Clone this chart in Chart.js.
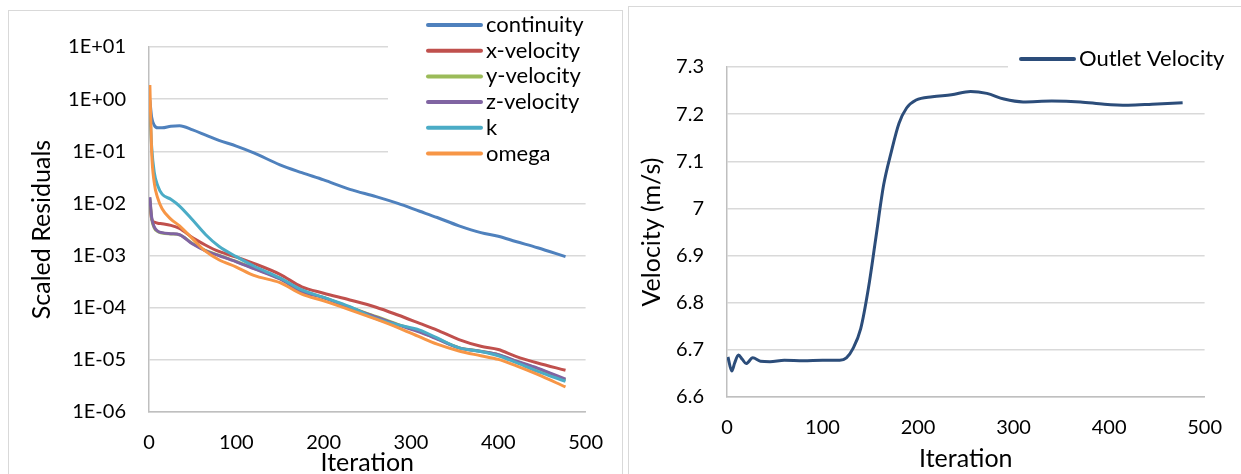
<!DOCTYPE html>
<html>
<head>
<meta charset="utf-8">
<script src="https://cdn.jsdelivr.net/npm/chart.js@4.4.0/dist/chart.umd.min.js"></script>
<style>
  body { margin: 0; background: #fff; width: 1241px; height: 474px; overflow: hidden; position: relative; }
  .panel { position: absolute; border: 1px solid #d9d9d9; border-bottom: none; background: #fff; overflow: hidden; }
  #left { left: 8px; top: 10px; width: 613px; height: 467px; }
  #right { left: 628px; top: 6px; width: 620px; height: 467px; }
  canvas { display: block; }
</style>
</head>
<body>
<div class="panel" id="left"><canvas id="residuals" width="613" height="467"></canvas></div>
<div class="panel" id="right"><canvas id="velocity" width="612" height="467"></canvas></div>
<script>
// residuals (left chart)
const iterations = [1, 3, 6, 10, 15, 25, 35, 50, 65, 80, 100, 120, 150, 175, 200, 230, 260, 285, 310, 330, 355, 380, 400, 420, 445, 477];
const continuity = [0.955, 0.457, 0.316, 0.282, 0.282, 0.302, 0.309, 0.257, 0.204, 0.162, 0.126, 0.0933, 0.055, 0.0389, 0.0282, 0.0186, 0.0135, 0.0100, 0.00708, 0.00537, 0.00372, 0.00275, 0.00234, 0.00186, 0.00141, 0.000955];
const xVelocity = [0.0112, 0.00501, 0.00437, 0.00417, 0.00407, 0.0038, 0.00331, 0.00219, 0.00158, 0.0012, 0.000933, 0.000708, 0.000437, 0.000251, 0.00019, 0.000141, 0.000102, 7.24e-5, 5.01e-5, 3.72e-5, 2.45e-5, 1.82e-5, 1.58e-5, 1.17e-5, 8.71e-6, 6.31e-6];
const yVelocity = [0.0125, 0.0052, 0.0034, 0.0029, 0.0027, 0.0026, 0.0025, 0.0017, 0.00125, 0.00102, 0.00077, 0.00057, 0.00036, 0.00021, 0.000158, 0.000102, 6.8e-5, 4.8e-5, 3.5e-5, 2.55e-5, 1.72e-5, 1.46e-5, 1.25e-5, 9.4e-6, 6.8e-6, 4.1e-6];
const zVelocity = [0.0132, 0.0055, 0.00355, 0.00295, 0.00275, 0.00263, 0.00251, 0.00166, 0.00123, 0.001, 0.000759, 0.000562, 0.000355, 0.000204, 0.000155, 0.0001, 6.61e-5, 4.68e-5, 3.39e-5, 2.51e-5, 1.7e-5, 1.45e-5, 1.26e-5, 9.55e-6, 6.92e-6, 4.27e-6];
const kResidual = [0.631, 0.126, 0.0398, 0.0219, 0.0151, 0.012, 0.00891, 0.00479, 0.00251, 0.00151, 0.000955, 0.000631, 0.000372, 0.000219, 0.000158, 0.000105, 6.17e-5, 4.68e-5, 3.72e-5, 2.63e-5, 1.7e-5, 1.45e-5, 1.2e-5, 8.91e-6, 6.03e-6, 3.89e-6];
const omega = [1.86, 0.1, 0.0251, 0.0126, 0.00794, 0.00501, 0.00372, 0.00209, 0.0012, 0.000832, 0.000603, 0.000417, 0.000302, 0.000182, 0.000135, 9.12e-5, 6.03e-5, 4.17e-5, 2.75e-5, 2.0e-5, 1.48e-5, 1.2e-5, 1.02e-5, 7.76e-6, 5.25e-6, 3.02e-6];
const residualTicks = [1e-6, 1e-5, 1e-4, 1e-3, 1e-2, 1e-1, 1, 10];
const residualTickLabels = ['1E-06', '1E-05', '1E-04', '1E-03', '1E-02', '1E-01', '1E+00', '1E+01'];

// outlet velocity (right chart)
const velIterations = [1, 5, 8, 12, 16, 20, 27, 35, 45, 60, 80, 100, 118, 125, 132, 140, 148, 156, 164, 172, 180, 188, 198, 215, 235, 255, 272, 290, 310, 340, 370, 395, 420, 445, 477];
const outletVelocity = [6.685, 6.655, 6.672, 6.689, 6.680, 6.671, 6.683, 6.676, 6.675, 6.678, 6.677, 6.678, 6.678, 6.683, 6.703, 6.745, 6.83, 6.94, 7.05, 7.12, 7.18, 7.213, 7.23, 7.237, 7.241, 7.248, 7.244, 7.232, 7.226, 7.228, 7.226, 7.221, 7.219, 7.221, 7.224];
const velTickLabels = ['6.6', '6.7', '6.8', '6.9', '7', '7.1', '7.2', '7.3'];
const xTickLabels = ['0', '100', '200', '300', '400', '500'];

Chart.defaults.font.family = 'Lato, sans-serif';
Chart.defaults.font.size = 20;
Chart.defaults.color = '#000';

// legend drawn over the plot like the spreadsheet one, with a white box under it
const sideLegend = {
  id: 'sideLegend',
  beforeDatasetsDraw(chart, args, opts) {
    const ctx = chart.ctx;
    ctx.save();
    ctx.fillStyle = '#fff';
    ctx.fillRect(opts.coverX, 0, chart.width - opts.coverX, opts.coverBottom);
    ctx.restore();
  },
  afterDraw(chart, args, opts) {
    const ctx = chart.ctx;
    ctx.save();
    ctx.font = '22px Lato, sans-serif';
    ctx.textBaseline = 'middle';
    ctx.fillStyle = '#000';
    chart.data.datasets.forEach((ds, i) => {
      const y = opts.y + i * opts.rowHeight;
      ctx.strokeStyle = ds.borderColor;
      ctx.lineWidth = 4;
      ctx.lineCap = 'round';
      ctx.beginPath();
      ctx.moveTo(opts.x, y);
      ctx.lineTo(opts.x + opts.lineLength, y);
      ctx.stroke();
      ctx.fillText(ds.label, opts.x + opts.lineLength + 5, y);
    });
    ctx.restore();
  }
};

function series(xs, ys) {
  return xs.map((x, i) => ({ x, y: ys[i] }));
}

function lineSet(label, color, ys, xs, i, n) {
  return {
    label,
    data: series(xs, ys),
    borderColor: color,
    backgroundColor: color,
    borderWidth: 3,
    pointRadius: 0,
    cubicInterpolationMode: 'monotone',
    order: n - i
  };
}

const titleFont = { size: 25 };

const xAxis = (height) => ({
  type: 'linear',
  min: 0,
  max: 500,
  ticks: { stepSize: 100, padding: 19, callback: (v, i) => xTickLabels[i] },
  grid: { display: false, drawTicks: false },
  border: { display: true, color: '#bfbfbf', width: 1.5 },
  title: { display: true, text: 'Iteration', font: titleFont, padding: { top: 0, bottom: 0 } },
  afterFit: s => { s.height = height; }
});

const resNames = ['continuity', 'x-velocity', 'y-velocity', 'z-velocity', 'k', 'omega'];
const resColors = ['#4f81bd', '#c0504d', '#9bbb59', '#8064a2', '#4bacc6', '#f79646'];
const resValues = [continuity, xVelocity, yVelocity, zVelocity, kResidual, omega];

new Chart(document.getElementById('residuals'), {
  type: 'line',
  data: {
    datasets: resNames.map((name, i) => lineSet(name, resColors[i], resValues[i], iterations, i, resNames.length))
  },
  options: {
    responsive: false,
    animation: false,
    devicePixelRatio: 1,
    layout: { padding: { left: 0, top: 36, right: 34, bottom: 0 } },
    plugins: {
      legend: { display: false },
      tooltip: { enabled: false },
      sideLegend: { x: 419, y: 14, rowHeight: 25.7, lineLength: 53, coverX: 379, coverBottom: 146 }
    },
    scales: {
      x: xAxis(66),
      y: {
        type: 'logarithmic',
        min: 1e-6,
        max: 10,
        afterBuildTicks: s => { s.ticks = residualTicks.map(v => ({ value: v })); },
        ticks: { padding: 23, callback: (v, i) => residualTickLabels[i] },
        grid: { color: '#d9d9d9', lineWidth: 1.5, drawTicks: false },
        border: { display: true, color: '#bfbfbf', width: 1.5 },
        title: { display: true, text: 'Scaled Residuals', font: titleFont, padding: { top: 18, bottom: 0 } },
        afterFit: s => { s.width = 140; }
      }
    }
  },
  plugins: [sideLegend]
});

new Chart(document.getElementById('velocity'), {
  type: 'line',
  data: {
    datasets: [lineSet('Outlet Velocity', '#2c4d7a', outletVelocity, velIterations, 0, 1)]
  },
  options: {
    responsive: false,
    animation: false,
    devicePixelRatio: 1,
    layout: { padding: { left: 0, top: 60, right: 34, bottom: 0 } },
    plugins: {
      legend: { display: false },
      tooltip: { enabled: false },
      sideLegend: { x: 392, y: 52, rowHeight: 26, lineLength: 53, coverX: 379, coverBottom: 64 }
    },
    scales: {
      x: xAxis(77),
      y: {
        type: 'linear',
        min: 6.6,
        max: 7.3,
        ticks: { stepSize: 0.1, padding: 23, callback: (v, i) => velTickLabels[i] },
        grid: { color: '#d9d9d9', lineWidth: 1.5, drawTicks: false },
        border: { display: true, color: '#bfbfbf', width: 1.5 },
        title: { display: true, text: 'Velocity (m/s)', font: titleFont, padding: { top: 8, bottom: 0 } },
        afterFit: s => { s.width = 98; }
      }
    }
  },
  plugins: [sideLegend]
});
</script>
</body>
</html>
